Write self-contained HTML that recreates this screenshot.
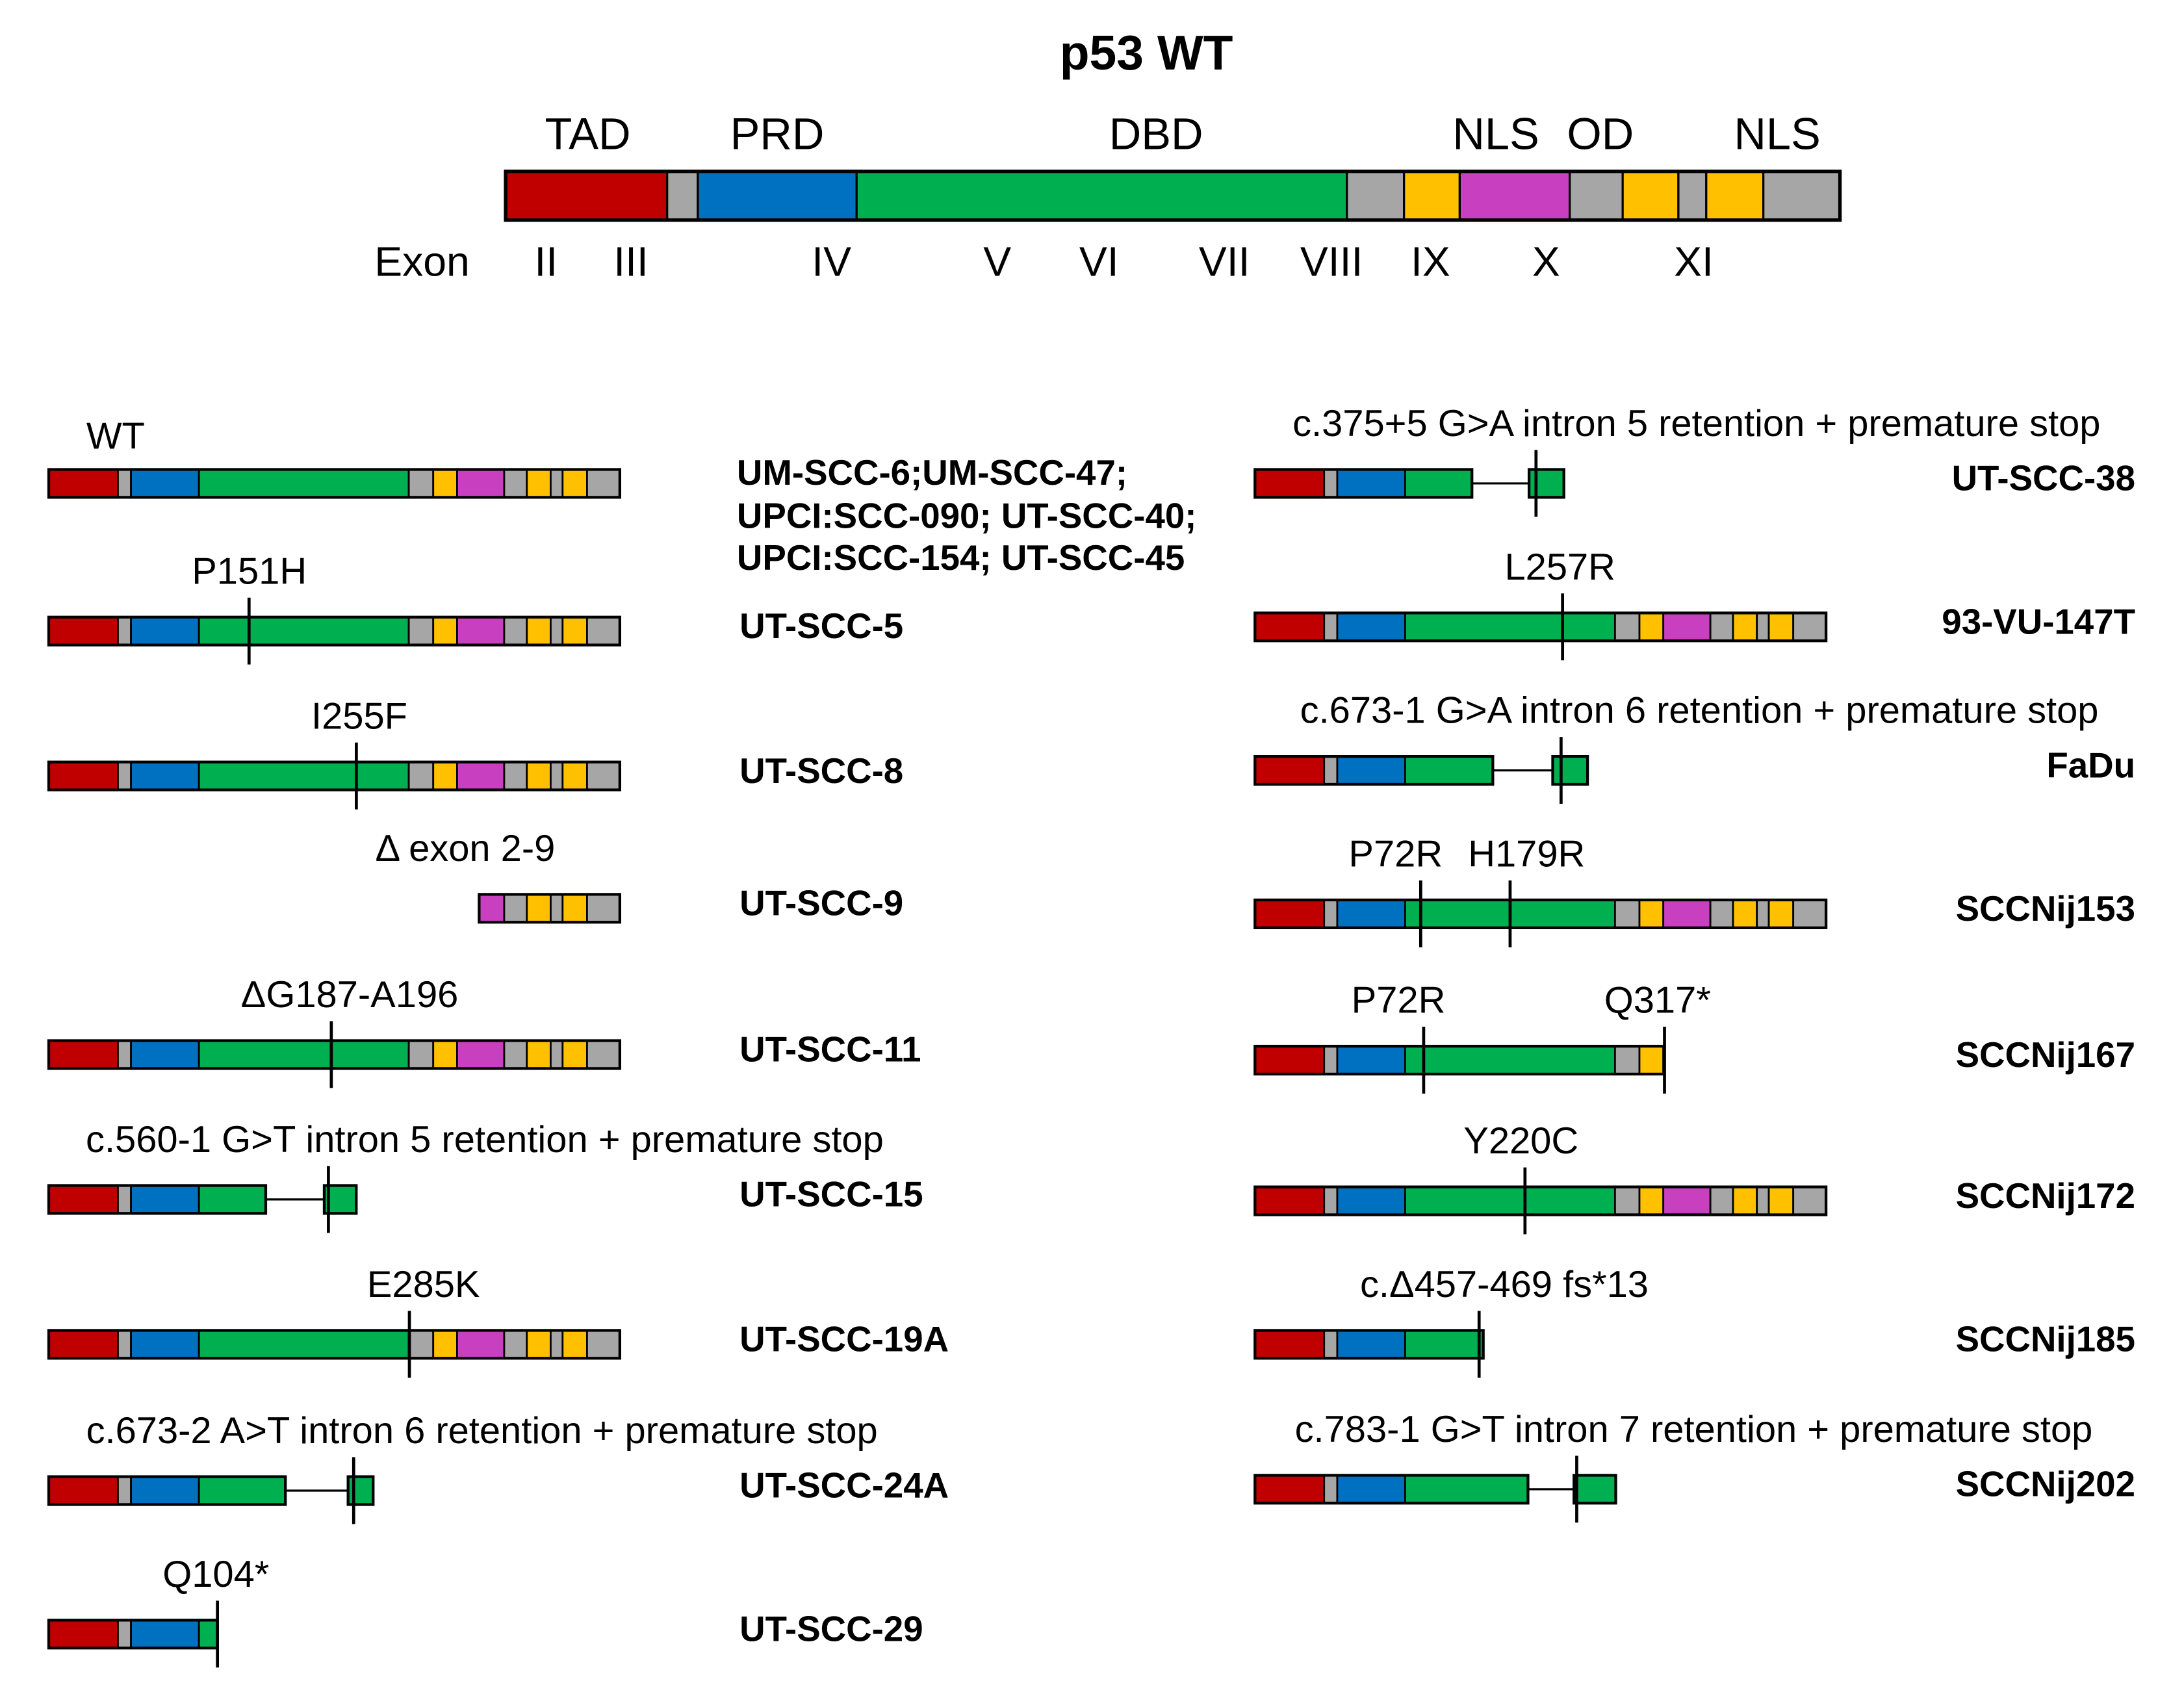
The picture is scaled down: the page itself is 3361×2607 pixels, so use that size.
<!DOCTYPE html>
<html><head><meta charset="utf-8"><style>
html,body{margin:0;padding:0;background:#fff;}
svg{display:block;}
text{font-family:"Liberation Sans",sans-serif;}
</style></head><body>
<svg id="fig" width="3361" height="2607" viewBox="0 0 1568 1216" preserveAspectRatio="none" xmlns="http://www.w3.org/2000/svg">
<text x="823" y="50" font-size="35" font-weight="bold" text-anchor="middle">p53 WT</text>
<g id="topbar"></g>
<g id="rowsg"></g>
</svg>
<script>
// domain boundaries in reference units (full length 958)
const bounds = [0,116,138,252,604,645,685,764,802,842,862,903,958];
const colors = ["#c00000","#a6a6a6","#0070c0","#00b050","#a6a6a6","#ffc000","#c840c0","#a6a6a6","#ffc000","#a6a6a6","#ffc000","#a6a6a6"];
const domainLabels = ["TAD","PRD","DBD","NLS","OD","NLS"];
const domainLabelX = [422,558,830,1074,1149,1276];
const exonLabels = ["II","III","IV","V","VI","VII","VIII","IX","X","XI"];
const exonLabelX = [392,453,597,716,789,879,956,1027,1110,1216];
const rowNames = ["WT","UT-SCC-5","UT-SCC-8","UT-SCC-9","UT-SCC-11","UT-SCC-15","UT-SCC-19A","UT-SCC-24A","UT-SCC-29",
 "UT-SCC-38","93-VU-147T","FaDu","SCCNij153","SCCNij167","SCCNij172","SCCNij185","SCCNij202"];
const rowCol = [0,0,0,0,0,0,0,0,0,1,1,1,1,1,1,1,1];
const rowStart = [0,0,0,722,0,0,0,0,0,0,0,0,0,0,0,0,0];
const rowEnd = [958,958,958,958,958,364,958,397,283,364,958,399,958,687,958,383,458];
const intronLine = [0,0,0,0,0,42,0,45,0,41,0,43,0,0,0,0,33];
const intronBox = [0,0,0,0,0,23,0,18,0,25,0,25,0,0,0,0,30];
const mutUnits = [[],[336],[516],[],[474],[],[605],[],[283],[],[516],[],[278,428],[283,687],[453],[376],[]];
const boxMut = [0,0,0,0,0,3,0,4,0,5,0,6,0,0,0,0,2];
const mutText = [["WT"],["P151H"],["I255F"],["Δ exon 2-9"],["ΔG187-A196"],["c.560-1 G>T intron 5 retention + premature stop"],["E285K"],["c.673-2 A>T intron 6 retention + premature stop"],["Q104*"],
 ["c.375+5 G>A intron 5 retention + premature stop"],["L257R"],["c.673-1 G>A intron 6 retention + premature stop"],["P72R","H179R"],["P72R","Q317*"],["Y220C"],["c.Δ457-469 fs*13"],["c.783-1 G>T intron 7 retention + premature stop"]];
const mutTextX = [[83],[179],[258],[334],[251],[348],[304],[346],[155],[1218],[1120],[1220],[1002,1096],[1004,1190],[1092],[1080],[1216]];
const rowY = [347,453,557,652,757,861,965,1070,1173,347,450,553,656,761,862,965,1069];

const NS="http://www.w3.org/2000/svg";
function mk(tag,attrs,parent){const e=document.createElementNS(NS,tag);for(const k in attrs)e.setAttribute(k,attrs[k]);parent.appendChild(e);return e;}
function txt(s,x,y,size,anchor,bold,parent){const t=mk("text",{x:x,y:y,"font-size":size,"text-anchor":anchor},parent);if(bold)t.setAttribute("font-weight","bold");t.textContent=s;return t;}

const topG=document.getElementById("topbar");
const tx0=363, tsc=1, ty=123, th=35;
for(let i=0;i<colors.length;i++){
  const r=mk("rect",{x:tx0+bounds[i]*tsc,y:ty,width:(bounds[i+1]-bounds[i])*tsc,height:th,fill:colors[i],stroke:"#000","stroke-width":1.5},topG);
  
  
}
mk("rect",{x:tx0,y:ty,width:958*tsc,height:th,fill:"none",stroke:"#000","stroke-width":2.5},topG);
for(let i=0;i<domainLabels.length;i++){
  const t=txt(domainLabels[i],domainLabelX[i],107,32,"middle",false,topG);
  
  
}
const exT=txt("Exon",303,198,30,"middle",false,topG);


for(let i=0;i<exonLabels.length;i++){
  const t=txt(exonLabels[i],exonLabelX[i],198,30,"middle",false,topG);
  
  
}

const rowsG=document.getElementById("rowsg");
const scl=410/958, bh=20;
const colX=[35,901];
for(let r=0;r<rowNames.length;r++){
  const g=mk("g",{},rowsG);
  
  
  const xu=u=>colX[rowCol[r]] + (rowStart[r]>0 ? 309 + (u-rowStart[r])*scl : u*scl);
  const y=rowY[r]-bh/2;
  const s=rowStart[r], e=rowEnd[r];
  for(let i=0;i<colors.length;i++){
    const a=Math.max(bounds[i],s), b=Math.min(bounds[i+1],e);
    if(b<=a) continue;
    const seg=mk("rect",{x:xu(a),y:y,width:xu(b)-xu(a),height:bh,fill:colors[i],stroke:"#000","stroke-width":1.3},g);
    
    
  }
  mk("rect",{x:xu(s),y:y,width:xu(e)-xu(s),height:bh,fill:"none",stroke:"#000","stroke-width":2},g);
  const xe=xu(e);
  if(intronLine[r]>0){
    const ln=mk("line",{x1:xe,y1:rowY[r],x2:xe+intronLine[r],y2:rowY[r],stroke:"#000","stroke-width":1.5},g);
    
    
    const bx=mk("rect",{x:xe+intronLine[r],y:y,width:intronBox[r],height:bh,fill:"#00b050",stroke:"#000","stroke-width":2},g);
    
    
    const m=xe+intronLine[r]+boxMut[r];
    const ml=mk("line",{x1:m,y1:rowY[r]-24,x2:m,y2:rowY[r]+24,stroke:"#000","stroke-width":2.2},g);
    
    
  }
  for(const u of mutUnits[r]){
    const m=xu(u);
    const ml=mk("line",{x1:m,y1:rowY[r]-24,x2:m,y2:rowY[r]+24,stroke:"#000","stroke-width":2.2},g);
    
    
  }
  for(let k=0;k<mutText[r].length;k++){
    const t=txt(mutText[r][k],mutTextX[r][k],rowY[r]-(r===0?25:34),27,"middle",false,g);
    
    
  }
  if(r===0){
    const lines=["UM-SCC-6;UM-SCC-47;","UPCI:SCC-090; UT-SCC-40;","UPCI:SCC-154; UT-SCC-45"];
    const ys=[348,379,409];
    for(let k=0;k<3;k++){
      const t=txt(lines[k],529,ys[k],25.5,"start",true,g);
      
      
    }
  } else {
    const t = rowCol[r]===0 ? txt(rowNames[r],531,rowY[r]+5,25.5,"start",true,g) : txt(rowNames[r],1533,rowY[r]+5,25.5,"end",true,g);
    
    
  }
}
</script>
</body></html>
